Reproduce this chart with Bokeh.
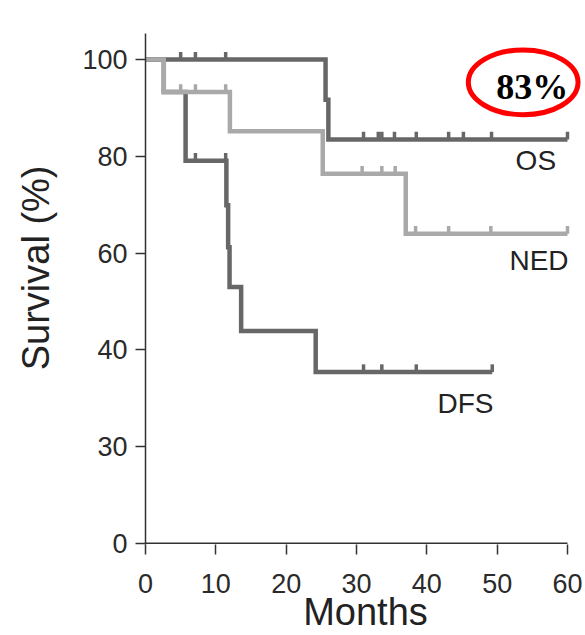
from bokeh.plotting import figure
from bokeh.models import Range1d, FixedTicker
from bokeh.core.properties import value
from bokeh.embed import file_html
from bokeh.resources import INLINE

# ---- data ----
os_time = [0, 25.6, 26.0, 60]
os_surv = [100, 91.7, 83.5, 83.5]
os_cens = [5.0, 7.1, 11.4, 31.0, 33.1, 33.6, 35.4, 38.5, 43.1, 45.2, 49.2, 60]

ned_time = [0, 2.6, 12.0, 25.2, 37.0, 60]
ned_surv = [100, 93.3, 85.2, 76.4, 64.0, 64.0]
ned_cens = [5.0, 7.1, 11.4, 30.8, 33.6, 35.5, 38.4, 43.1, 49.1, 60]

dfs_time = [0, 2.6, 5.7, 11.5, 11.75, 11.95, 13.6, 24.2, 49.3]
dfs_surv = [100, 93.3, 79.1, 69.9, 61.2, 53.0, 43.9, 35.4, 35.4]
dfs_cens = [7.1, 11.4, 31.0, 33.6, 38.5, 49.3]

series_names = ["OS", "NED", "DFS"]
x_ticks = [0, 10, 20, 30, 40, 50, 60]
y_ticks = [0, 20, 40, 60, 80, 100]
y_tick_labels = ["0", "30", "40", "60", "80", "100"]
highlight_text = "83%"
x_title = "Months"
y_title = "Survival (%)"

DARK = "#676767"
LIGHT = "#a9a9a9"
AXIS = "#333333"
FONT = "Liberation Sans"


def level_at(times, surv, t):
    lvl = surv[0]
    for ti, si in zip(times, surv):
        if ti <= t:
            lvl = si
    return lvl


p = figure(width=582, height=626, output_backend="svg", toolbar_location=None,
           x_range=Range1d(0, 62.56), y_range=Range1d(-0.25, 105.4),
           min_border_left=142, min_border_right=0, min_border_top=24,
           min_border_bottom=91)
p.styles = {"margin-top": "9px", "margin-left": "3px"}
p.outline_line_color = None
p.grid.visible = False
p.background_fill_color = "white"
p.border_fill_color = "white"

# axes
p.xaxis.ticker = FixedTicker(ticks=x_ticks)
p.yaxis.ticker = FixedTicker(ticks=y_ticks)
p.yaxis.major_label_overrides = {t: l for t, l in zip(y_ticks, y_tick_labels)}
for ax in (p.xaxis, p.yaxis):
    ax.major_tick_in = 0
    ax.major_tick_out = 10
    ax.minor_tick_line_color = None
    ax.major_tick_line_color = AXIS
    ax.major_tick_line_width = 1.5
    ax.axis_line_color = AXIS
    ax.axis_line_width = 1.5
    ax.major_label_text_font = FONT
    ax.major_label_text_font_size = "27px"
    ax.major_label_text_color = "#2a2a2a"
    ax.axis_label_text_font = FONT
    ax.axis_label_text_font_style = "normal"
    ax.axis_label_text_color = "#222222"
p.xaxis.axis_line_color = None
p.xaxis.major_label_standoff = 19
p.yaxis.major_label_standoff = 8
p.xaxis.axis_label = x_title
p.xaxis.axis_label_text_font_size = "38px"
p.xaxis.axis_label_standoff = -5
p.yaxis.axis_label = "\u00a0" * 4 + y_title
p.yaxis.axis_label_text_font_size = "38px"
p.yaxis.axis_label_standoff = 22

# x axis line from 0 to 60
p.segment(x0=[x_ticks[0]], y0=[0], x1=[x_ticks[-1]], y1=[0], line_color=AXIS, line_width=1.5)

# survival curves (NED drawn last, on top)
for times, surv, cens, col in [(os_time, os_surv, os_cens, DARK),
                               (dfs_time, dfs_surv, dfs_cens, DARK),
                               (ned_time, ned_surv, ned_cens, LIGHT)]:
    p.step(times, surv, mode="after", line_color=col, line_width=4.5,
           line_join="miter", line_cap="butt")
    lv = [level_at(times, surv, t) for t in cens]
    p.segment(x0=cens, y0=lv, x1=cens, y1=[v + 1.6 for v in lv],
              line_color=col, line_width=3.5)

# curve names
p.text(x=[55.5, 55.95, 45.5], y=[79.1, 58.5, 28.9], text=series_names,
       text_font=value(FONT), text_font_size="28px", text_color="#222222",
       text_align="center", text_baseline="middle")

# highlighted value
p.ellipse(x=[53.7], y=[95.3], width=[15.6], height=[13.4],
          fill_color=None, line_color="#ff0000", line_width=5)
p.text(x=[55.0], y=[94.3], text=[highlight_text], text_font=value("Liberation Serif"),
       text_font_style="bold", text_font_size="36px", text_color="black",
       text_align="center", text_baseline="middle")

open("out.html", "w").write(file_html(p, INLINE))
